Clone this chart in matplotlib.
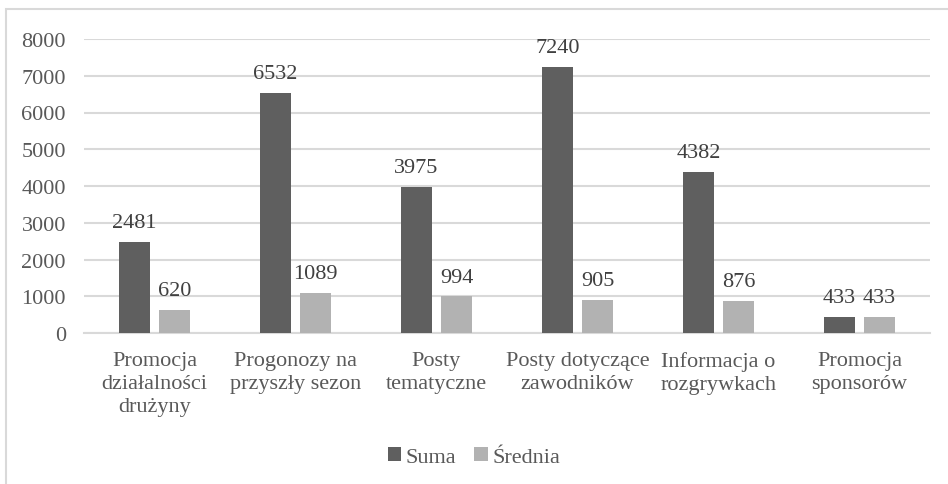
import numpy as np
import matplotlib.pyplot as plt
from matplotlib.patches import Rectangle

categories = ['Promocja\ndziałalności\ndrużyny', 'Progonozy na\nprzyszły sezon',
              'Posty\ntematyczne', 'Posty dotyczące\nzawodników',
              'Informacja o\nrozgrywkach', 'Promocja\nsponsorów']
suma = [2481, 6532, 3975, 7240, 4382, 433]
srednia = [620, 1089, 994, 905, 876, 433]
yticks = [0, 1000, 2000, 3000, 4000, 5000, 6000, 7000, 8000]

plt.rcParams['font.family'] = ['Liberation Serif', 'DejaVu Serif']
txt = '#595959'
grid = '#d9d9d9'
fs = 16

fig = plt.figure(figsize=(9.48, 4.85), dpi=100)
ax = fig.add_axes([84/948, 1-334/485, (930-84)/948, (334-40)/485])

x = np.arange(len(categories))
w = 0.22
b1 = ax.bar(x - 0.142, suma, w, color='#5f5f5f', label='Suma', zorder=3)
b2 = ax.bar(x + 0.142, srednia, w, color='#b2b2b2', label='Średnia', zorder=3)

for bars in (b1, b2):
    for r in bars:
        ax.annotate(str(int(r.get_height())), (r.get_x() + r.get_width()/2, r.get_height()),
                    xytext=(0, 7), textcoords='offset points', ha='center', va='bottom',
                    fontsize=fs, color='#404040')

ax.set_xlim(-0.5, len(categories) - 0.5)
ax.set_ylim(0, 8000)
ax.set_yticks(yticks)
ax.yaxis.grid(True, color=grid, linewidth=1.5, zorder=0)
ax.set_xticks(x)
ax.set_xticklabels(categories, linespacing=1.3)
ax.tick_params(axis='both', length=0, labelsize=fs, labelcolor=txt)
ax.tick_params(axis='y', pad=13)
ax.tick_params(axis='x', pad=13)
for s in ['top', 'right', 'left']:
    ax.spines[s].set_visible(False)
ax.spines['bottom'].set_color(grid)
ax.spines['bottom'].set_linewidth(1.5)

fig.legend(loc='center', bbox_to_anchor=(0.5, 1-458/485), ncol=2, frameon=False,
           fontsize=fs, labelcolor=txt, handlelength=0.6, handleheight=0.6,
           handletextpad=0.2, columnspacing=0.8)

fig.patches.append(Rectangle((6/948, -0.5), 2, 0.5 + 1-10/485, transform=fig.transFigure,
                             fill=False, edgecolor=grid, linewidth=1.5))

fig.savefig('out.png', dpi=100)
